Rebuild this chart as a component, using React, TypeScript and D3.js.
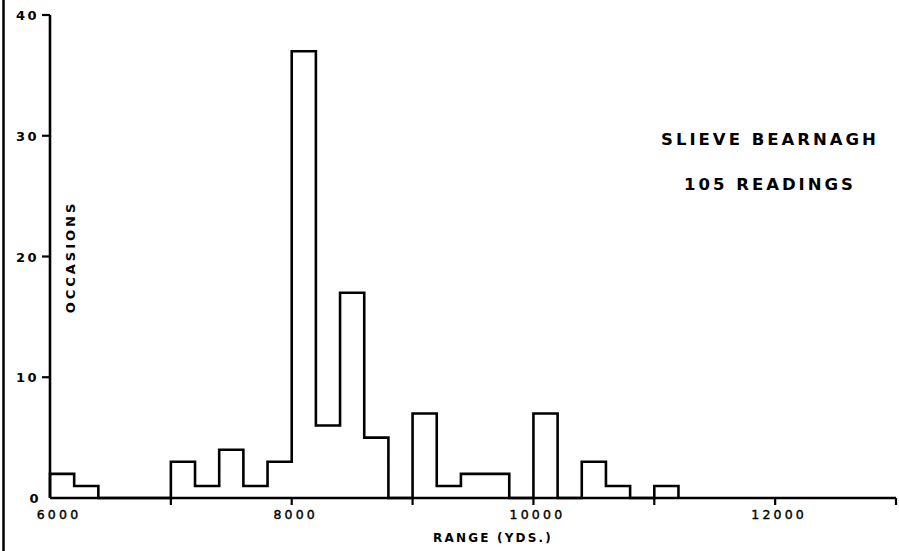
import React from "react";
import * as d3 from "d3";

const binStarts = [6000, 6200, 7000, 7200, 7400, 7600, 7800, 8000, 8200, 8400, 8600, 9000, 9200, 9400, 9600, 10000, 10400, 10600, 11000];
const counts = [2, 1, 3, 1, 4, 1, 3, 37, 6, 17, 5, 7, 1, 2, 2, 7, 3, 1, 1];
const binWidth = 200;
const xTickValues = [7000, 8000, 9000, 10000, 11000, 12000, 13000];
const xLabelValues = [6000, 8000, 10000, 12000];
const yTickValues = [0, 10, 20, 30, 40];
const titleLines = ["SLIEVE BEARNAGH", "105 READINGS"];
const xTitle = "RANGE (YDS.)";
const yTitle = "OCCASIONS";

const W = 899;
const H = 551;
const FONT = "'DejaVu Sans', 'Open Sans', sans-serif";

export default function App() {
  const x = d3.scaleLinear().domain([6000, 13000]).range([50, 896]);
  const y = d3.scaleLinear().domain([0, 40]).range([498, 15]);
  const sw = 2.6;

  // dense bins from first to last bin, zeros where there are no readings
  const first = binStarts[0];
  const last = binStarts[binStarts.length - 1];
  const dense: { s: number; c: number }[] = [];
  for (let s = first; s <= last; s += binWidth) {
    const idx = binStarts.indexOf(s);
    dense.push({ s, c: idx >= 0 ? counts[idx] : 0 });
  }
  const pts: [number, number][] = [[first, 0]];
  dense.forEach((d) => {
    pts.push([d.s, d.c]);
    pts.push([d.s + binWidth, d.c]);
  });
  pts.push([last + binWidth, 0]);
  const line = d3
    .line<[number, number]>()
    .x((p) => x(p[0]))
    .y((p) => y(p[1]));

  return (
    <svg
      width={W}
      height={H}
      viewBox={`0 0 ${W} ${H}`}
      style={{ position: "absolute", left: 0, top: 0, background: "#fff" }}
    >
      <rect x={0} y={0} width={W} height={H} fill="#fff" />
      <line x1={3.5} x2={3.5} y1={0} y2={H} stroke="#000" strokeWidth={2.5} />

      <path d={line(pts) || ""} fill="none" stroke="#000" strokeWidth={sw} strokeLinejoin="miter" />

      <line x1={x(6000)} x2={x(6000)} y1={y(40)} y2={y(0)} stroke="#000" strokeWidth={sw} />
      <line x1={x(6000)} x2={x(13000)} y1={y(0)} y2={y(0)} stroke="#000" strokeWidth={sw} />
      {yTickValues.filter((v) => v > 0).map((v) => (
        <line key={v} x1={x(6000) - 8} x2={x(6000)} y1={y(v)} y2={y(v)} stroke="#000" strokeWidth={2.2} />
      ))}
      {xTickValues.map((v) => (
        <line key={v} x1={x(v)} x2={x(v)} y1={y(0)} y2={y(0) + 7} stroke="#000" strokeWidth={2.2} />
      ))}

      {yTickValues.map((v) => (
        <text
          key={v}
          x={v === 0 ? 41 : 39}
          y={y(v) + 5}
          textAnchor="end"
          fontFamily={FONT}
          fontWeight="bold"
          fontSize={13}
          letterSpacing={2.5}
          fill="#000"
        >
          {v}
        </text>
      ))}
      {xLabelValues.map((v) => (
        <text
          key={v}
          x={x(v) + (v === 6000 ? 9 : 4)}
          y={519}
          textAnchor="middle"
          fontFamily={FONT}
          fontSize={12.5}
          letterSpacing={3.2}
          fill="#000"
          stroke="#000"
          strokeWidth={0.4}
        >
          {v}
        </text>
      ))}

      <text
        x={493}
        y={542}
        textAnchor="middle"
        fontFamily={FONT}
        fontWeight="bold"
        fontSize={12}
        letterSpacing={2.2}
        fill="#000"
      >
        {xTitle}
      </text>
      <text
        transform={`translate(75,257) rotate(-90)`}
        textAnchor="middle"
        fontFamily={FONT}
        fontWeight="bold"
        fontSize={13}
        letterSpacing={3}
        fill="#000"
      >
        {yTitle}
      </text>

      {titleLines.map((t, i) => (
        <text
          key={i}
          x={770}
          y={145 + i * 45}
          textAnchor="middle"
          fontFamily={FONT}
          fontWeight="bold"
          fontSize={16.5}
          letterSpacing={3}
          fill="#000"
        >
          {t}
        </text>
      ))}
    </svg>
  );
}
